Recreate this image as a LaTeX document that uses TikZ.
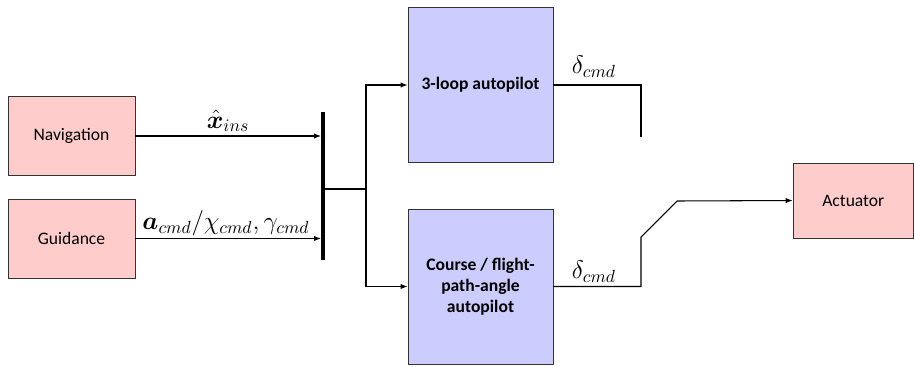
\documentclass[tikz,border=0pt]{standalone}
\usepackage{fontspec}
\setmainfont{Carlito}
\usepackage{bm}
\usetikzlibrary{arrows.meta}
\definecolor{boxpink}{RGB}{255,204,204}
\definecolor{boxblue}{RGB}{204,204,255}
\tikzset{
  pinkbox/.style={draw=black!80, fill=boxpink, minimum width=2.54cm, minimum height=1.58cm, font=\fontsize{10}{12}\selectfont},
  bluebox/.style={draw=black!80, fill=boxblue, minimum width=2.9cm, minimum height=3.1cm, align=center, font=\fontsize{10}{12}\selectfont\bfseries},
  sig/.style={font=\fontsize{14}{17}\selectfont},
  wire/.style={line width=0.6pt},
  arr/.style={wire, -{Latex[length=4pt,width=3pt]}}
}
\begin{document}
\begin{tikzpicture}[x=0.02cm, y=-0.02cm]
\useasboundingbox (0,0) rectangle (914,366);
\node[pinkbox] (nav) at (71.5,136) {Navigation};
\node[pinkbox] (guid) at (71.5,238.5) {Guidance};
\node[fill=black, minimum width=1.8pt, minimum height=2.96cm, inner sep=0pt] (mux) at (323,186) {};
\node[bluebox] (loop) at (480.5,85) {3-loop autopilot};
\node[bluebox] (course) at (480.5,286.5) {Course / flight-\\path-angle\\autopilot};
\node[pinkbox, minimum width=2.41cm, minimum height=1.5cm] (act) at (853.3,200.5) {Actuator};
\coordinate (split) at (366,189);
\coordinate (sw1) at (641,137);
\coordinate (sw2) at (641,237);
\coordinate (swpole) at (677,201);
\draw[arr] (nav.east) -- (nav.east -| mux.west);
\draw[arr] (guid.east) -- (guid.east -| mux.west);
\draw[wire] (split -| mux.east) -- (split);
\draw[arr] (split) |- (loop.west);
\draw[arr] (split) |- (course.west);
\draw[wire] (loop.east) -| (sw1);
\draw[wire] (course.east) -| (sw2) -- (swpole);
\draw[arr] (swpole) -- (act.west);
\node[sig] (xins) at (228,121) {$\hat{\bm{x}}_{ins}$};
\node[sig] (acmd) at (226,223) {$\bm{a}_{cmd}/\chi_{cmd},\gamma_{cmd}$};
\node[sig] (dloop) at (594,67) {$\delta_{cmd}$};
\node[sig] (dcourse) at (594,272) {$\delta_{cmd}$};
\end{tikzpicture}
\end{document}
